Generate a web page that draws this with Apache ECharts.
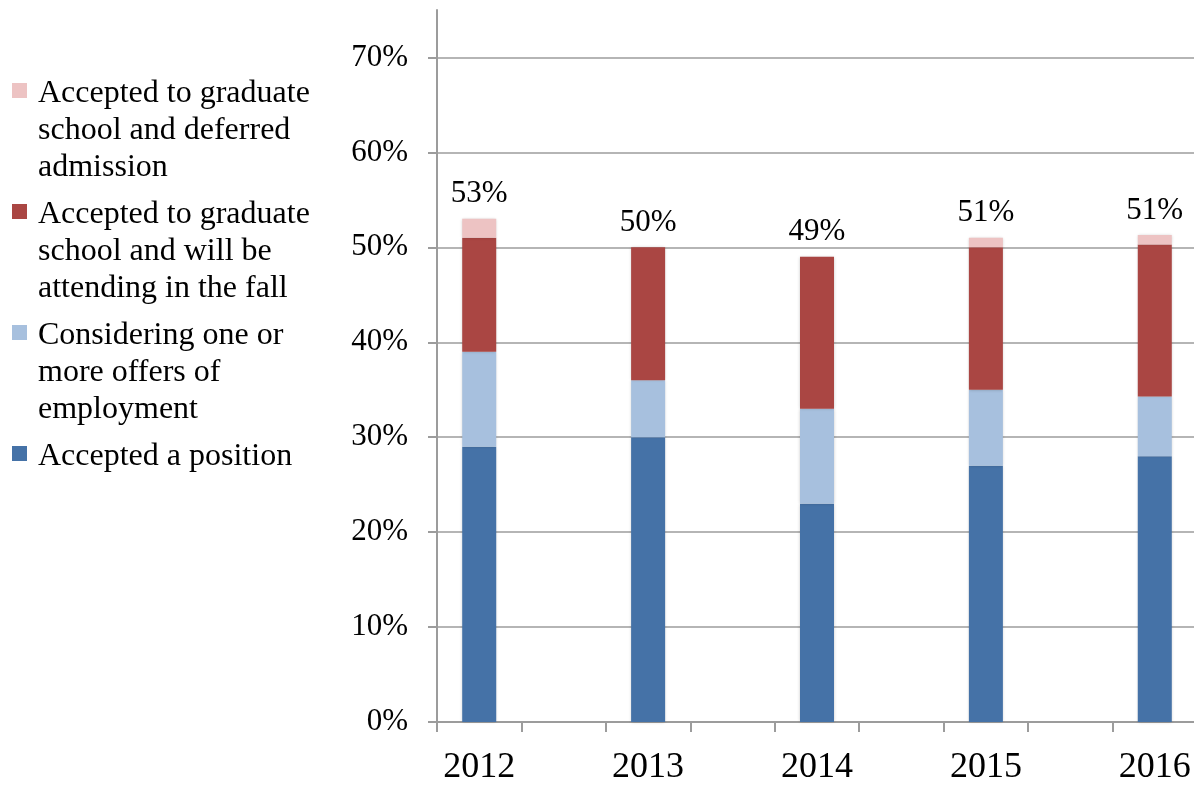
<!DOCTYPE html>
<html>
<head>
<meta charset="utf-8">
<script src="https://cdn.jsdelivr.net/npm/echarts@6/dist/echarts.min.js"></script>
<style>
  html, body { margin: 0; padding: 0; background: #ffffff; }
  #chart { width: 1194px; height: 786px; }
</style>
</head>
<body>
<div id="chart"></div>
<script>
// ---- data ----
const years = ['2012', '2013', '2014', '2015', '2016'];
const acceptedPosition = [29, 30, 23, 27, 28];
const considering = [10, 6, 10, 8, 6.3];
const attendingFall = [12, 14, 16, 15, 16];
const deferred = [2, 0, 0, 1, 1];
const yTicks = [0, 10, 20, 30, 40, 50, 60, 70];
const names = {
  position: 'Accepted a position',
  considering: 'Considering one or\nmore offers of\nemployment',
  attending: 'Accepted to graduate\nschool and will be\nattending in the fall',
  deferred: 'Accepted to graduate\nschool and deferred\nadmission'
};

// Excel-style axis: a blank slot between each pair of years
const cats = [];
years.forEach((y, i) => { cats.push(y); if (i < years.length - 1) cats.push('_' + i); });
function spread(arr) {
  const out = [];
  arr.forEach((v, i) => { out.push(v); if (i < arr.length - 1) out.push(null); });
  return out;
}
const totals = years.map((_, i) => acceptedPosition[i] + considering[i] + attendingFall[i] + deferred[i]);

const FONT = '"Liberation Serif", "Times New Roman", serif';
const GRAY = '#9c9c9c';
const shadow = { shadowColor: 'rgba(0,0,0,0.22)', shadowBlur: 3 };
const ICON = 'path://M0,0L0,0M0,8L15,8L15,23L0,23ZM21,111L21,111';

function stackSeries(name, data, color) {
  return {
    name: name, type: 'bar', stack: 'total', barWidth: 34,
    data: spread(data),
    itemStyle: Object.assign({ color: color }, shadow),
    emphasis: { disabled: true }
  };
}

const chart = echarts.init(document.getElementById('chart'), null, { renderer: 'canvas' });
chart.setOption({
  animation: false,
  backgroundColor: '#ffffff',
  textStyle: { fontFamily: FONT },
  grid: { left: 437, right: -3, top: 10, bottom: 64, containLabel: false, outerBoundsMode: 'none' },
  legend: {
    orient: 'vertical', left: 12, top: 75, padding: 0,
    itemWidth: 21, itemHeight: 111, itemGap: 10,
    symbolKeepAspect: false,
    selectedMode: false,
    textStyle: { fontFamily: FONT, fontSize: 32, lineHeight: 37, color: '#000' },
    formatter: n => (n === names.position ? n + '\n \n ' : n),
    data: [
      { name: names.deferred, icon: ICON },
      { name: names.attending, icon: ICON },
      { name: names.considering, icon: ICON },
      { name: names.position, icon: ICON }
    ]
  },
  xAxis: {
    type: 'category', data: cats, boundaryGap: true,
    axisLine: { show: true, lineStyle: { color: GRAY, width: 2 } },
    axisTick: { show: true, interval: 0, length: 10, lineStyle: { color: GRAY, width: 2 } },
    axisLabel: {
      interval: 0, margin: 28, fontFamily: FONT, fontSize: 36, lineHeight: 36, color: '#000',
      formatter: v => (v.charAt(0) === '_' ? '' : v)
    },
    splitLine: { show: false }
  },
  yAxis: {
    type: 'value', min: 0, max: 75, interval: 10,
    axisLine: { show: true, lineStyle: { color: GRAY, width: 2 } },
    axisTick: { show: true, length: 9, customValues: yTicks, lineStyle: { color: GRAY, width: 2 } },
    axisLabel: {
      margin: 29, fontFamily: FONT, fontSize: 31, color: '#000', customValues: yTicks,
      formatter: '{value}%'
    },
    splitLine: { show: true, lineStyle: { color: GRAY, width: 1.5 } }
  },
  series: [
    stackSeries(names.position, acceptedPosition, '#4572A7'),
    stackSeries(names.considering, considering, '#A7C0DE'),
    stackSeries(names.attending, attendingFall, '#AA4643'),
    stackSeries(names.deferred, deferred, '#EDC3C3'),
    {
      name: 'Total', type: 'bar', barWidth: 34, barGap: '-100%', z: 1,
      data: spread(totals),
      itemStyle: { color: 'rgba(0,0,0,0)' },
      emphasis: { disabled: true },
      label: {
        show: true, position: 'top', distance: 9,
        fontFamily: FONT, fontSize: 31, color: '#000',
        formatter: p => Math.round(p.value) + '%'
      }
    }
  ]
});
</script>
</body>
</html>
